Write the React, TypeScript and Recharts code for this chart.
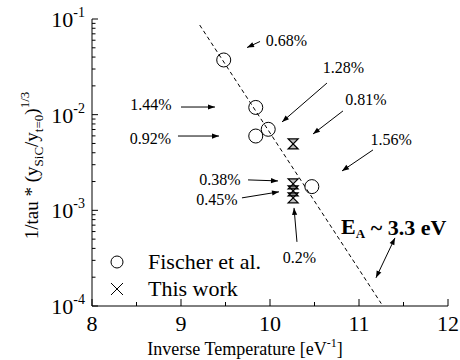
import React from 'react';
import { ComposedChart, XAxis, YAxis, Scatter, Line, ReferenceLine, ReferenceDot, Legend, Label } from 'recharts';

const FONT = '"Liberation Serif", "Times New Roman", Times, serif';

// Fischer et al. (open circles)
const fischerX = [9.48, 9.84, 9.98, 9.84, 10.47];
const fischerY = [0.0373, 0.0119, 0.00703, 0.00598, 0.00177];

// this work (hourglass markers)
const workX = [10.26, 10.26, 10.26, 10.26];
const workY = [0.00494, 0.00189, 0.0016, 0.00135];

// E_A ~ 3.3 eV fit, end points of the dashed line
const fitX = [9.21, 11.25];
const fitY = [0.0865, 0.000106];

const xTicks = [8, 8.5, 9, 9.5, 10, 10.5, 11, 11.5, 12];
const xTickLabels = ['8', '', '9', '', '10', '', '11', '', '12'];
const yDecades = [1e-4, 1e-3, 1e-2, 1e-1];
const yTickLabels = ['-4', '-3', '-2', '-1'];

const legendNames = ['Fischer et al.', 'This work'];

// percentage notes (centre of text) and their arrows
const noteText = ['0.68%', '1.44%', '0.92%', '1.28%', '0.81%', '1.56%', '0.38%', '0.45%', '0.2%'];
const noteX = [10.185, 8.663, 8.657, 10.826, 11.079, 11.36, 9.438, 9.404, 10.331];
const noteY = [0.0589, 0.01262, 0.00566, 0.0308, 0.01426, 0.00545, 0.00208, 0.00131, 0.000318];
const arrowX1 = [9.888, 9.0, 8.966, 10.64, 10.82, 11.157, 9.753, 9.685, 10.303];
const arrowY1 = [0.0582, 0.01202, 0.00598, 0.0214, 0.01094, 0.00428, 0.00208, 0.00135, 0.000468];
const arrowX2 = [9.742, 9.382, 9.427, 10.135, 10.483, 10.809, 10.09, 10.101, 10.27];
const arrowY2 = [0.0503, 0.01202, 0.00598, 0.00839, 0.00628, 0.00258, 0.00203, 0.00156, 0.00106];

// activation energy note and its double arrow
const eaX = 11.39;
const eaY = 0.000671;
const eaArrowX = [11.404, 11.191];
const eaArrowY = [0.000515, 0.000197];

const fischer = fischerX.map((x, i) => ({ x, y: fischerY[i] }));
const thisWork = workX.map((x, i) => ({ x, y: workY[i] }));
const fitLine = fitX.map((x, i) => ({ x, y: fitY[i] }));

const yTicks: number[] = [];
yDecades.forEach((d) => {
  for (let k = 1; k <= 9; k++) if (k * d <= 0.1 * 1.0001) yTicks.push(k * d);
});

const decadeIndex = (v: number) => yDecades.findIndex((d) => Math.abs(v / d - 1) < 1e-6);

const LeftTick = (props: any) => {
  const { x, y, payload } = props;
  const i = decadeIndex(payload.value);
  return (
    <g>
      <line x1={x} y1={y} x2={x + (i >= 0 ? 6 : 3.5)} y2={y} stroke="#000" />
      {i >= 0 && (
        <text x={x - 7} y={y + 8} textAnchor="end" fontFamily={FONT} fontSize={22} fill="#000">
          10<tspan dy={-10} fontSize={14}>{yTickLabels[i]}</tspan>
        </text>
      )}
    </g>
  );
};

const RightTick = (props: any) => {
  const { x, y, payload } = props;
  const major = decadeIndex(payload.value) >= 0;
  return <line x1={x} y1={y} x2={x - (major ? 6 : 3.5)} y2={y} stroke="#000" />;
};

const BottomTick = (props: any) => {
  const { x, y, payload } = props;
  const label = xTickLabels[xTicks.indexOf(payload.value)];
  return (
    <g>
      <line x1={x} y1={y} x2={x} y2={y - (label ? 7 : 4)} stroke="#000" />
      {label && (
        <text x={x} y={y + 25} textAnchor="middle" fontFamily={FONT} fontSize={22} fill="#000">
          {label}
        </text>
      )}
    </g>
  );
};

const TopTick = (props: any) => {
  const { x, y, payload } = props;
  const label = xTickLabels[xTicks.indexOf(payload.value)];
  return <line x1={x} y1={y} x2={x} y2={y + (label ? 7 : 4)} stroke="#000" />;
};

const Ring = (p: any) => <circle cx={p.cx} cy={p.cy} r={7} fill="none" stroke="#000" strokeWidth={1} />;

const Hourglass = (p: any) => {
  const { cx, cy } = p;
  const s = 5;
  return (
    <path
      d={`M${cx - s} ${cy - s}H${cx + s}L${cx - s} ${cy + s}H${cx + s}Z`}
      fill="#000"
      fillOpacity={0.25}
      stroke="#000"
      strokeWidth={1.2}
    />
  );
};

const arrowHead = (tx: number, ty: number, fx: number, fy: number) => {
  const a = Math.atan2(ty - fy, tx - fx);
  const L = 7;
  const W = 2.6;
  const bx = tx - L * Math.cos(a);
  const by = ty - L * Math.sin(a);
  const px = -Math.sin(a) * W;
  const py = Math.cos(a) * W;
  return <polygon points={`${tx},${ty} ${bx + px},${by + py} ${bx - px},${by - py}`} fill="#000" />;
};

const arrowShape = (both: boolean) => (p: any) => {
  const { x1, y1, x2, y2 } = p;
  return (
    <g>
      <line x1={x1} y1={y1} x2={x2} y2={y2} stroke="#000" strokeWidth={1} />
      {arrowHead(x2, y2, x1, y1)}
      {both && arrowHead(x1, y1, x2, y2)}
    </g>
  );
};

const noteShape = (text: string) => (p: any) => (
  <text x={p.cx} y={p.cy} textAnchor="middle" dominantBaseline="central" fontFamily={FONT} fontSize={16} fill="#000">
    {text}
  </text>
);

const eaShape = (p: any) => (
  <text x={p.cx} y={p.cy} textAnchor="middle" dominantBaseline="central" fontFamily={FONT} fontSize={22} fontWeight="bold" fill="#000">
    E<tspan dy={6} fontSize={13}>A</tspan>
    <tspan dy={-6}> ~ 3.3 eV</tspan>
  </text>
);

const YTitle = (props: any) => {
  const { viewBox } = props;
  const cx = viewBox.x + 30;
  const cy = viewBox.y + viewBox.height / 2 + 3;
  return (
    <text transform={`rotate(-90 ${cx} ${cy})`} x={cx} y={cy} textAnchor="middle" fontFamily={FONT} fontSize={19} fill="#000">
      1/tau * (y<tspan dy={5} fontSize={13}>SiC</tspan>
      <tspan dy={-5}>/y</tspan>
      <tspan dy={5} fontSize={13}>t=0</tspan>
      <tspan dy={-5}>)</tspan>
      <tspan dy={-9} fontSize={13}>1/3</tspan>
    </text>
  );
};

const XTitle = (props: any) => {
  const { viewBox } = props;
  return (
    <text x={viewBox.x + viewBox.width / 2 - 25} y={viewBox.y + 49} textAnchor="middle" fontFamily={FONT} fontSize={18} fill="#000">
      Inverse Temperature [eV<tspan dy={-8} fontSize={12}>-1</tspan>
      <tspan dy={8}>]</tspan>
    </text>
  );
};

const LegendBox = () => (
  <div style={{ fontFamily: FONT, fontSize: 22, color: '#000' }}>
    {legendNames.map((name, i) => (
      <div key={name} style={{ display: 'flex', alignItems: 'center', height: 27 }}>
        <svg width={18} height={18}>
          {i === 0 ? (
            <circle cx={9} cy={9} r={6} fill="none" stroke="#000" />
          ) : (
            <path d="M3 3L15 15M15 3L3 15" stroke="#000" />
          )}
        </svg>
        <span style={{ marginLeft: 22, whiteSpace: 'nowrap' }}>{name}</span>
      </div>
    ))}
  </div>
);

export default function App() {
  return (
    <div style={{ position: 'absolute', left: 8, top: 0 }}>
      <ComposedChart width={452} height={360} margin={{ top: 19, right: 12, bottom: 0, left: 0 }}>
        <XAxis
          dataKey="x"
          type="number"
          domain={[8, 12]}
          allowDataOverflow
          ticks={xTicks}
          interval={0}
          tickSize={0}
          tickMargin={0}
          tickLine={false}
          tick={<BottomTick />}
          axisLine={{ stroke: '#000' }}
          height={54}
        >
          <Label content={<XTitle />} />
        </XAxis>
        <XAxis
          xAxisId="top"
          orientation="top"
          type="number"
          domain={[8, 12]}
          allowDataOverflow
          ticks={xTicks}
          interval={0}
          tickSize={0}
          tickMargin={0}
          tickLine={false}
          tick={<TopTick />}
          axisLine={{ stroke: '#000' }}
          height={0}
        />
        <YAxis
          dataKey="y"
          scale="log"
          domain={[1e-4, 1e-1]}
          allowDataOverflow
          ticks={yTicks}
          interval={0}
          tickSize={0}
          tickMargin={0}
          tickLine={false}
          tick={<LeftTick />}
          axisLine={{ stroke: '#000' }}
          width={84}
        >
          <Label content={<YTitle />} />
        </YAxis>
        <YAxis
          yAxisId="right"
          orientation="right"
          scale="log"
          domain={[1e-4, 1e-1]}
          allowDataOverflow
          ticks={yTicks}
          interval={0}
          tickSize={0}
          tickMargin={0}
          tickLine={false}
          tick={<RightTick />}
          axisLine={{ stroke: '#000' }}
          width={0}
        />
        <Line data={fitLine} dataKey="y" type="linear" stroke="#000" strokeWidth={1} strokeDasharray="4 3" dot={false} isAnimationActive={false} />
        <Scatter data={fischer} shape={Ring} isAnimationActive={false} />
        <Scatter data={thisWork} shape={Hourglass} isAnimationActive={false} />
        {noteText.map((t, i) => (
          <ReferenceLine
            key={`a${i}`}
            segment={[{ x: arrowX1[i], y: arrowY1[i] }, { x: arrowX2[i], y: arrowY2[i] }]}
            shape={arrowShape(false)}
          />
        ))}
        <ReferenceLine
          segment={[{ x: eaArrowX[0], y: eaArrowY[0] }, { x: eaArrowX[1], y: eaArrowY[1] }]}
          shape={arrowShape(true)}
        />
        {noteText.map((t, i) => (
          <ReferenceDot key={`n${i}`} x={noteX[i]} y={noteY[i]} r={0} shape={noteShape(t)} />
        ))}
        <ReferenceDot x={eaX} y={eaY} r={0} shape={eaShape} />
        <Legend
          layout="vertical"
          align="center"
          verticalAlign="middle"
          content={<LegendBox />}
          wrapperStyle={{ left: 100, top: 248, width: 'auto' }}
        />
      </ComposedChart>
    </div>
  );
}
